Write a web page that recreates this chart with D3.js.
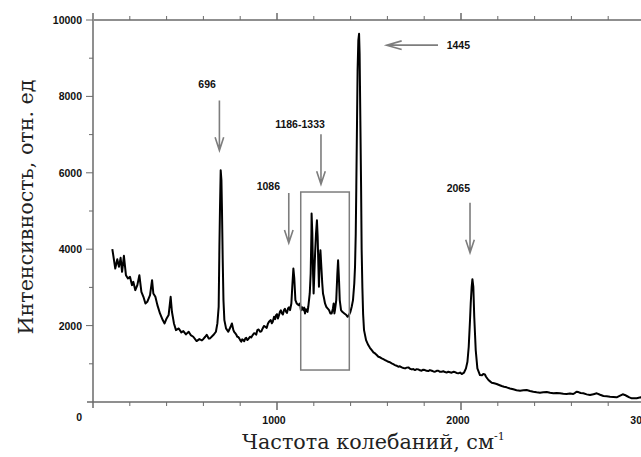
<!DOCTYPE html>
<html>
<head>
<meta charset="utf-8">
<script src="https://cdn.jsdelivr.net/npm/d3@7"></script>
<style>
  body { margin: 0; background: #fff; }
  svg { display: block; }
  .tick-label { font-family: "Liberation Sans", Arial, sans-serif; font-weight: bold; font-size: 10.5px; fill: #111; }
  .title { font-family: "DejaVu Serif", serif; fill: #222; }
</style>
</head>
<body>
<div id="chart"></div>
<script>
// spectrum (cm-1 / rel. units)
const wavenumber = [
  105, 110, 121, 132, 141, 150, 158, 168, 179, 190, 201, 212, 219, 230, 241, 252, 263, 274, 285, 295,
  310, 321, 328, 339, 350, 364, 379, 389, 400, 411, 422, 429, 440, 451, 466, 480, 491, 505, 520, 531,
  545, 563, 578, 592, 600, 610, 618, 629, 636, 654, 668, 676, 683, 687, 690, 694, 698, 701, 705, 709,
  714, 723, 735, 748, 755, 763, 768, 774, 779, 784, 790, 795, 800, 806, 811, 817, 822, 828, 833, 839,
  846, 853, 860, 868, 875, 882, 887, 893, 900, 908, 915, 922, 929, 937, 944, 951, 958, 966, 972, 977,
  984, 990, 995, 1000, 1005, 1010, 1016, 1021, 1027, 1032, 1038, 1043, 1049, 1054, 1060, 1065, 1071, 1078, 1083, 1089,
  1094, 1100, 1107, 1118, 1125, 1130, 1136, 1143, 1148, 1152, 1157, 1161, 1166, 1170, 1178, 1183, 1187, 1188, 1192, 1196,
  1199, 1203, 1207, 1212, 1217, 1221, 1225, 1228, 1232, 1236, 1239, 1243, 1246, 1250, 1254, 1261, 1268, 1275, 1283, 1290,
  1297, 1304, 1308, 1312, 1315, 1322, 1328, 1332, 1337, 1341, 1348, 1355, 1366, 1377, 1384, 1391, 1399, 1406, 1413, 1420,
  1424, 1428, 1431, 1435, 1438, 1442, 1446, 1449, 1453, 1457, 1460, 1464, 1468, 1473, 1484, 1496, 1505, 1515, 1524, 1533,
  1542, 1551, 1560, 1569, 1578, 1587, 1596, 1605, 1614, 1623, 1632, 1641, 1650, 1659, 1668, 1678, 1687, 1696, 1705, 1714,
  1723, 1732, 1741, 1750, 1759, 1768, 1777, 1786, 1795, 1804, 1813, 1822, 1831, 1841, 1850, 1859, 1868, 1877, 1886, 1895,
  1904, 1913, 1922, 1931, 1940, 1949, 1958, 1967, 1976, 1986, 1995, 2004, 2016, 2027, 2035, 2042, 2049, 2053, 2058, 2062,
  2067, 2072, 2080, 2089, 2103, 2114, 2121, 2130, 2136, 2149, 2158, 2167, 2180, 2194, 2207, 2221, 2234, 2248, 2266, 2284,
  2302, 2321, 2339, 2357, 2375, 2393, 2411, 2429, 2447, 2466, 2484, 2502, 2520, 2538, 2556, 2574, 2592, 2610, 2620, 2628,
  2638, 2650, 2665, 2683, 2701, 2720, 2738, 2756, 2774, 2792, 2810, 2828, 2846, 2862, 2879, 2890, 2901, 2915, 2928, 2942,
  2955, 2966, 2978, 2990, 3005
];
const intensity = [
  4000, 3843, 3495, 3739, 3538, 3774, 3407, 3826, 3320, 3234, 3277, 3059, 3146, 2928, 3059, 3320, 2885, 2754, 2580, 2623,
  2797, 3190, 2841, 2754, 2536, 2318, 2144, 2057, 2188, 2275, 2754, 2362, 2057, 1882, 1926, 1822, 1856, 1770, 1839, 1752,
  1708, 1595, 1647, 1613, 1650, 1708, 1760, 1665, 1665, 1752, 1839, 2057, 2493, 4061, 5020, 6065, 5804, 5020, 3712, 2667,
  2144, 1926, 1839, 1969, 2057, 1882, 1830, 1795, 1760, 1708, 1700, 1665, 1620, 1577, 1640, 1621, 1590, 1665, 1680, 1621,
  1660, 1708, 1690, 1752, 1800, 1795, 1760, 1882, 1900, 1839, 1850, 1926, 1990, 1969, 1940, 2057, 2110, 2144, 2060, 2101,
  2231, 2170, 2275, 2300, 2188, 2260, 2362, 2400, 2318, 2290, 2405, 2440, 2362, 2330, 2449, 2480, 2405, 2580, 3016, 3495,
  3234, 2667, 2580, 2536, 2580, 2400, 2480, 2405, 2470, 2318, 2430, 2405, 2360, 2493, 2841, 3364, 4410, 4932, 4410, 3364,
  2841, 3364, 3887, 4410, 4758, 4322, 3538, 3016, 3712, 3974, 3712, 3364, 3103, 2841, 2754, 2580, 2493, 2449, 2405, 2318,
  2318, 2449, 2580, 2318, 2405, 2667, 3364, 3712, 3190, 2667, 2405, 2362, 2318, 2275, 2231, 2275, 2362, 2493, 2667, 3103,
  3538, 4410, 5630, 7373, 8680, 9464, 9640, 9116, 7373, 5630, 4000, 3000, 2300, 1882, 1621, 1490, 1420, 1359, 1300, 1272,
  1230, 1184, 1170, 1141, 1120, 1098, 1075, 1054, 1040, 1010, 990, 967, 950, 923, 935, 906, 890, 880, 900, 906,
  870, 854, 862, 837, 860, 854, 830, 819, 845, 837, 815, 810, 835, 819, 800, 793, 815, 819, 790, 793,
  805, 784, 770, 793, 780, 767, 790, 784, 760, 750, 770, 732, 767, 880, 1054, 1446, 2144, 2600, 3016, 3216,
  3016, 2231, 1359, 880, 706, 700, 732, 720, 662, 575, 540, 505, 490, 471, 445, 418, 400, 384, 355, 332,
  310, 296, 305, 314, 290, 270, 255, 243, 255, 261, 240, 227, 235, 227, 215, 209, 220, 209, 240, 270,
  260, 235, 227, 200, 183, 205, 227, 190, 157, 150, 139, 130, 122, 160, 201, 185, 157, 120, 96, 100,
  96, 110, 122, 100, 90
];
const yTickValues = [2000, 4000, 6000, 8000, 10000];
const xTickValues = [1000, 2000, 3000];
const annotations = [
  { label: "696",       x: 687,  y0: 7895, y1: 6588, lx: 620,  ly: 8222, anchor: "middle" },
  { label: "1086",      x: 1064, y0: 5472, y1: 4165, lx: 953,  ly: 5556, anchor: "middle" },
  { label: "1186-1333", x: 1239, y0: 7007, y1: 5700, lx: 1125, ly: 7163, anchor: "middle" },
  { label: "2065",      x: 2049, y0: 5216, y1: 3908, lx: 1922, ly: 5503, anchor: "start" }
];
const label1445 = { label: "1445", x0: 1875, x1: 1596, y: 9341, lx: 1922, ly: 9229 };
const region = { x0: 1129, x1: 1393, y0: 5497, y1: 837 };

const W = 641, H = 457;
const svg = d3.select('#chart').append('svg')
    .attr('width', W)
    .attr('height', H);

const x = d3.scaleLinear().domain([0, 3000]).range([93, 645]);
const y = d3.scaleLinear().domain([0, 10000]).range([402, 20]);

const axisColor = '#6a6a6a';

// frame: top line + left + bottom
svg.append('line').attr('x1', 94).attr('x2', W).attr('y1', y(10000)).attr('y2', y(10000))
    .attr('stroke', axisColor).attr('stroke-width', 1.5);
svg.append('line').attr('x1', 87).attr('x2', W).attr('y1', y(0)).attr('y2', y(0))
    .attr('stroke', axisColor).attr('stroke-width', 1.5);
svg.append('line').attr('x1', x(0)).attr('x2', x(0)).attr('y1', 13).attr('y2', 408)
    .attr('stroke', axisColor).attr('stroke-width', 1.5);

// ticks
const xMinor = d3.range(200, 3001, 200);
svg.selectAll('.xb').data(xMinor).enter().append('line')
    .attr('x1', d => x(d)).attr('x2', d => x(d))
    .attr('y1', y(0)).attr('y2', d => y(0) + (d % 1000 === 0 ? 8 : 4))
    .attr('stroke', axisColor).attr('stroke-width', d => d % 1000 === 0 ? 1.5 : 1);
svg.selectAll('.xt').data(xMinor).enter().append('line')
    .attr('x1', d => x(d)).attr('x2', d => x(d))
    .attr('y1', y(10000)).attr('y2', d => y(10000) - (d % 1000 === 0 ? 7 : 4))
    .attr('stroke', axisColor).attr('stroke-width', d => d % 1000 === 0 ? 1.5 : 1);
svg.selectAll('.yt').data(d3.range(1000, 10001, 1000)).enter().append('line')
    .attr('x1', d => x(0) - (d % 2000 === 0 ? 7 : 4)).attr('x2', x(0))
    .attr('y1', d => y(d)).attr('y2', d => y(d))
    .attr('stroke', axisColor).attr('stroke-width', 1);

svg.selectAll('.ylab').data(yTickValues).enter().append('text')
    .attr('class', 'tick-label')
    .attr('x', 82).attr('y', d => y(d) + 4)
    .attr('text-anchor', 'end')
    .text(d => d);
svg.append('text').attr('class', 'tick-label')
    .attr('x', 82).attr('y', y(0) + 19).attr('text-anchor', 'end').text('0');
svg.selectAll('.xlab').data(xTickValues).enter().append('text')
    .attr('class', 'tick-label')
    .attr('x', d => x(d) - 3).attr('y', 424)
    .attr('text-anchor', 'middle')
    .text(d => d);

// titles
svg.append('text').attr('class', 'title')
    .attr('transform', 'translate(33,207) rotate(-90)')
    .attr('text-anchor', 'middle')
    .attr('font-size', 20)
    .attr('textLength', 255).attr('lengthAdjust', 'spacingAndGlyphs')
    .text('Интенсивность, отн. ед');
const xt = svg.append('text').attr('class', 'title')
    .attr('x', 242).attr('y', 449)
    .attr('font-size', 20);
xt.append('tspan').attr('textLength', 252).attr('lengthAdjust', 'spacingAndGlyphs').text('Частота колебаний, см');
xt.append('tspan').attr('font-size', 11).attr('dy', -9).text('-1');

// spectrum
const pts = wavenumber.map((w, i) => [w, intensity[i]]);
svg.append('path')
    .datum(pts)
    .attr('fill', 'none')
    .attr('stroke', '#000')
    .attr('stroke-width', 2)
    .attr('stroke-linejoin', 'round')
    .attr('d', d3.line().x(d => x(d[0])).y(d => y(d[1])));

// annotations
const arrowColor = '#7d7d7d';
svg.append('rect')
    .attr('x', x(region.x0)).attr('y', y(region.y0))
    .attr('width', x(region.x1) - x(region.x0))
    .attr('height', y(region.y1) - y(region.y0))
    .attr('fill', 'none').attr('stroke', arrowColor).attr('stroke-width', 1.5);

annotations.forEach(a => {
    const ax = x(a.x), ya = y(a.y0), yb = y(a.y1);
    svg.append('path')
        .attr('d', `M${ax},${ya}L${ax},${yb}M${ax - 4.3},${yb - 13}L${ax},${yb}L${ax + 4.3},${yb - 13}`)
        .attr('fill', 'none').attr('stroke', arrowColor).attr('stroke-width', 1.6);
    svg.append('text').attr('class', 'tick-label')
        .attr('x', x(a.lx)).attr('y', y(a.ly))
        .attr('text-anchor', a.anchor)
        .text(a.label);
});

{
    const xa = x(label1445.x0), xb = x(label1445.x1), ay = y(label1445.y);
    svg.append('path')
        .attr('d', `M${xa},${ay}L${xb},${ay}M${xb + 15},${ay - 4.3}L${xb},${ay}L${xb + 15},${ay + 4.3}`)
        .attr('fill', 'none').attr('stroke', arrowColor).attr('stroke-width', 1.6);
    svg.append('text').attr('class', 'tick-label')
        .attr('x', x(label1445.lx)).attr('y', y(label1445.ly))
        .text(label1445.label);
}
</script>
</body>
</html>
